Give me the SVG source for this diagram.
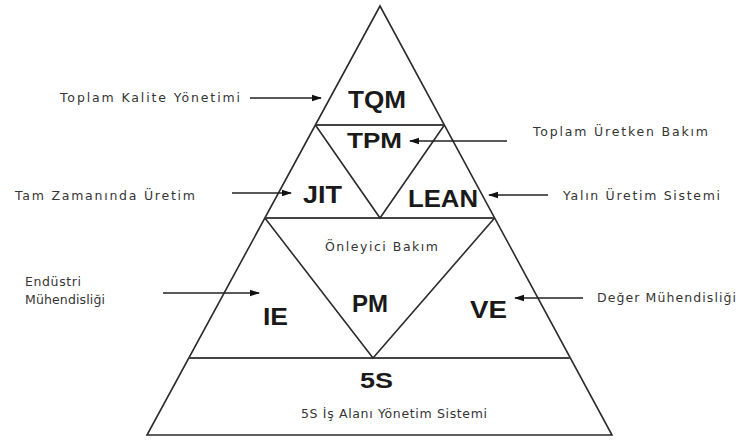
<svg xmlns="http://www.w3.org/2000/svg" width="753" height="441" viewBox="0 0 753 441">
  <style>
    .edge { fill: none; stroke: #2b2b2b; stroke-width: 1.6; stroke-linejoin: miter; }
    .tier { fill: none; stroke: #444; stroke-width: 2; }
    .abbr { font-family: "Liberation Sans", Arial, sans-serif; font-weight: bold; fill: #1a1a1a; }
    .note { font-family: "DejaVu Sans", "Liberation Sans", sans-serif; font-size: 12.5px; fill: #353535; }
    .arrow { stroke: #222; stroke-width: 1.5; fill: none; marker-end: url(#head); }
  </style>
  <defs>
    <marker id="head" markerWidth="10" markerHeight="8" refX="9" refY="4" orient="auto" markerUnits="userSpaceOnUse">
      <path d="M0,0.8 L10,4 L0,7.2 Z" fill="#111"/>
    </marker>
  </defs>
  <rect width="753" height="441" fill="#fff"/>

  <!-- pyramid outline and tier divisions -->
  <g id="pyramid">
    <polygon class="edge" points="380,6 147,435 612,435"/>
    <line class="tier" x1="315.4" y1="125" x2="444.4" y2="125"/>
    <line class="tier" x1="264.9" y1="218" x2="494.6" y2="218"/>
    <line class="tier" x1="188.8" y1="358" x2="570.4" y2="358"/>
    <polyline class="edge" points="315.4,125 380,218 444.4,125"/>
    <polyline class="edge" points="264.9,218 373,358 494.6,218"/>
  </g>

  <g id="tqm"><text class="abbr" x="348" y="108" font-size="24" textLength="58" lengthAdjust="spacingAndGlyphs">TQM</text></g>
  <g id="tpm"><text class="abbr" x="347" y="148" font-size="22" textLength="55" lengthAdjust="spacingAndGlyphs">TPM</text></g>
  <g id="jit"><text class="abbr" x="303" y="203" font-size="24" textLength="39" lengthAdjust="spacingAndGlyphs">JIT</text></g>
  <g id="lean"><text class="abbr" x="408" y="207" font-size="24" textLength="70" lengthAdjust="spacingAndGlyphs">LEAN</text></g>
  <g id="pm">
    <text class="note" x="325" y="251" textLength="113" lengthAdjust="spacing">Önleyici Bakım</text>
    <text class="abbr" x="352" y="312" font-size="23" textLength="36" lengthAdjust="spacingAndGlyphs">PM</text>
  </g>
  <g id="ie"><text class="abbr" x="263" y="325" font-size="24" textLength="25" lengthAdjust="spacingAndGlyphs">IE</text></g>
  <g id="ve"><text class="abbr" x="470" y="318" font-size="24" textLength="37" lengthAdjust="spacingAndGlyphs">VE</text></g>
  <g id="s5">
    <text class="abbr" x="360" y="388" font-size="22" textLength="33" lengthAdjust="spacingAndGlyphs">5S</text>
    <text class="note" x="301" y="418" textLength="186" lengthAdjust="spacing">5S İş Alanı Yönetim Sistemi</text>
  </g>

  <!-- side captions -->
  <g id="label-tqm"><text class="note" x="60" y="102" textLength="180" lengthAdjust="spacing">Toplam Kalite Yönetimi</text></g>
  <g id="label-tpm"><text class="note" x="533" y="136" textLength="175" lengthAdjust="spacing">Toplam Üretken Bakım</text></g>
  <g id="label-jit"><text class="note" x="15" y="200" textLength="180" lengthAdjust="spacing">Tam Zamanında Üretim</text></g>
  <g id="label-lean"><text class="note" x="563" y="200" textLength="157" lengthAdjust="spacing">Yalın Üretim Sistemi</text></g>
  <g id="label-ie">
    <text class="note" x="25" y="286" textLength="56" lengthAdjust="spacing">Endüstri</text>
    <text class="note" x="25" y="304" textLength="80" lengthAdjust="spacing">Mühendisliği</text>
  </g>
  <g id="label-ve"><text class="note" x="597" y="302" textLength="139" lengthAdjust="spacing">Değer Mühendisliği</text></g>

  <g id="connectors">
    <line class="arrow" x1="250" y1="98" x2="321" y2="98"/>
    <line class="arrow" x1="507" y1="141" x2="410" y2="141"/>
    <line class="arrow" x1="232" y1="193" x2="291" y2="193"/>
    <line class="arrow" x1="548" y1="195" x2="489" y2="195"/>
    <line class="arrow" x1="163" y1="293" x2="259" y2="293"/>
    <line class="arrow" x1="583" y1="298" x2="515" y2="298"/>
  </g>
</svg>
